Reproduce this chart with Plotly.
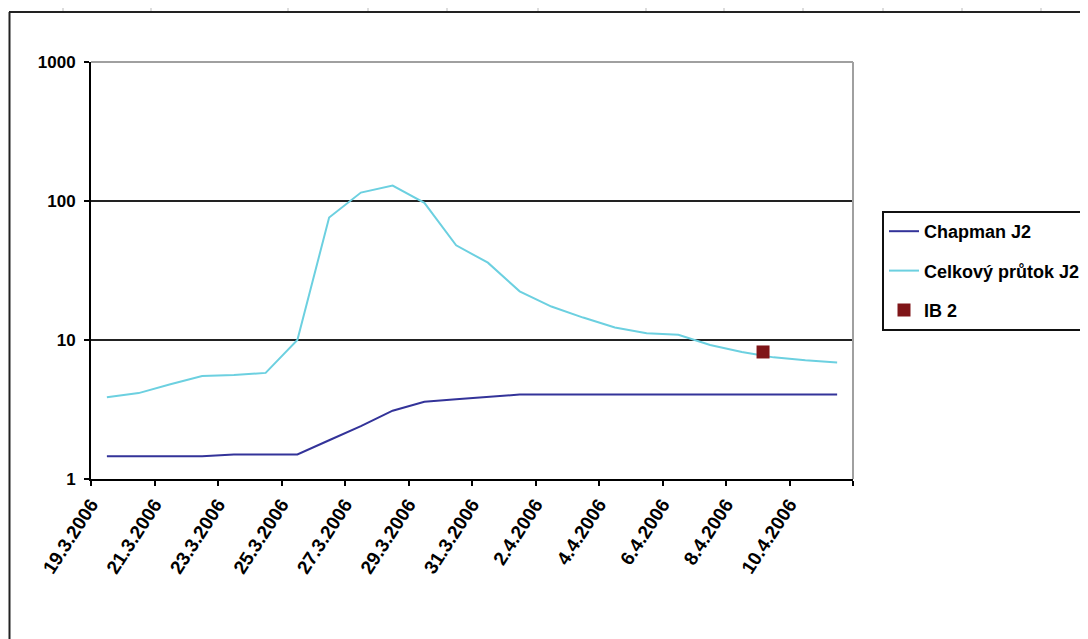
import plotly.graph_objects as go

# ---- data ----
days = ["2006-03-19", "2006-03-20", "2006-03-21", "2006-03-22", "2006-03-23", "2006-03-24",
        "2006-03-25", "2006-03-26", "2006-03-27", "2006-03-28", "2006-03-29", "2006-03-30",
        "2006-03-31", "2006-04-01", "2006-04-02", "2006-04-03", "2006-04-04", "2006-04-05",
        "2006-04-06", "2006-04-07", "2006-04-08", "2006-04-09", "2006-04-10", "2006-04-11"]
chapman_j2 = [1.46, 1.46, 1.46, 1.46, 1.5, 1.5, 1.5, 1.9, 2.4, 3.1, 3.6, 3.75,
              3.88, 4.05, 4.05, 4.05, 4.05, 4.05, 4.05, 4.05, 4.05, 4.05, 4.05, 4.05]
celkovy_prutok_j2 = [3.88, 4.15, 4.8, 5.5, 5.6, 5.8, 10.0, 76, 115, 129, 97, 48,
                     36, 22.4, 17.4, 14.5, 12.3, 11.2, 10.9, 9.2, 8.2, 7.5, 7.15, 6.9]
ib2_date = ["2006-04-09 04:00"]
ib2_value = [8.2]

tick_dates = ["2006-03-19", "2006-03-21", "2006-03-23", "2006-03-25", "2006-03-27",
              "2006-03-29", "2006-03-31", "2006-04-02", "2006-04-04", "2006-04-06",
              "2006-04-08", "2006-04-10", "2006-04-12"]
tick_labels = ["19.3.2006", "21.3.2006", "23.3.2006", "25.3.2006", "27.3.2006",
               "29.3.2006", "31.3.2006", "2.4.2006", "4.4.2006", "6.4.2006",
               "8.4.2006", "10.4.2006", ""]
y_ticks = [1, 10, 100, 1000]
y_labels = ["1", "10", "100", "1000"]

x_mid = [d + " 12:00" for d in days]

FONT = "Liberation Sans, Arial, sans-serif"

fig = go.Figure()
fig.add_trace(go.Scatter(x=x_mid, y=chapman_j2, mode="lines", name="Chapman J2",
                         line=dict(color="#333399", width=2), legendgroup="a"))
fig.add_trace(go.Scatter(x=x_mid, y=celkovy_prutok_j2, mode="lines", name="Celkový průtok J2",
                         line=dict(color="#6CD0E0", width=2), legendgroup="b"))
fig.add_trace(go.Scatter(x=ib2_date, y=ib2_value, mode="markers", name="IB 2",
                         marker=dict(symbol="square", color="#7F1518", size=13,
                                     line=dict(width=0)), legendgroup="c"))

OFF = 8  # page body margin
W, H = 1088 - OFF, 639 - OFF
# plot area in page pixels: x 91..853, y 62..479
PL, PR, PT, PB = 91, 853, 62, 479
L = PL - OFF
T = PT - OFF
R = W - (PR - OFF)
B = H - (PB - OFF)
pw, ph = PR - PL, PB - PT

def px_x(px):
    return (px - PL) / pw

def px_y(py):
    return (PB - py) / ph

shapes = []
# outer border
shapes.append(dict(type="line", xref="paper", yref="paper", x0=px_x(9), x1=px_x(1200),
                   y0=px_y(12), y1=px_y(12), line=dict(color="#222", width=2)))
shapes.append(dict(type="line", xref="paper", yref="paper", x0=px_x(9.5), x1=px_x(9.5),
                   y0=px_y(12), y1=px_y(700), line=dict(color="#222", width=2)))
# spreadsheet column marks above the border
for cx in [63, 151, 288, 368, 447, 538, 646, 724, 803, 883, 962, 1041]:
    shapes.append(dict(type="line", xref="paper", yref="paper", x0=px_x(cx), x1=px_x(cx),
                       y0=px_y(8), y1=px_y(11), line=dict(color="#bbb", width=1)))
# gray top and right plot-area edges
shapes.append(dict(type="line", xref="paper", yref="paper", x0=0, x1=1, y0=1, y1=1,
                   line=dict(color="#a0a0a0", width=2), layer="above"))
shapes.append(dict(type="line", xref="paper", yref="paper", x0=1, x1=1, y0=0, y1=1,
                   line=dict(color="#a0a0a0", width=2), layer="above"))

fig.update_layout(
    width=W, height=H,
    margin=dict(l=L, r=R, t=T, b=B, pad=0, autoexpand=False),
    paper_bgcolor="white", plot_bgcolor="white",
    showlegend=True,
    legend=dict(x=px_x(882), y=px_y(211), xanchor="left", yanchor="top",
                bordercolor="#111", borderwidth=2, bgcolor="white",
                font=dict(family=FONT, size=18, color="black", weight="bold"),
                tracegroupgap=13, itemwidth=30),
    shapes=shapes,
    xaxis=dict(type="date", range=["2006-03-19", "2006-04-12"],
               tickvals=tick_dates, ticktext=tick_labels, tickangle=-57,
               ticks="outside", ticklen=5, tickcolor="black", tickwidth=2,
               showline=True, linecolor="black", linewidth=2, showgrid=False,
               zeroline=False,
               tickfont=dict(family=FONT, size=19, color="black", weight="bold")),
    yaxis=dict(type="log", range=[0, 3], tickvals=y_ticks, ticktext=y_labels,
               ticks="outside", ticklen=5, tickcolor="black", tickwidth=2,
               showline=True, linecolor="black", linewidth=2,
               showgrid=True, gridcolor="#222", gridwidth=2,
               ticklabelstandoff=5,
               tickfont=dict(family=FONT, size=17, color="black", weight="bold")),
)

fig.write_html("out.html")
